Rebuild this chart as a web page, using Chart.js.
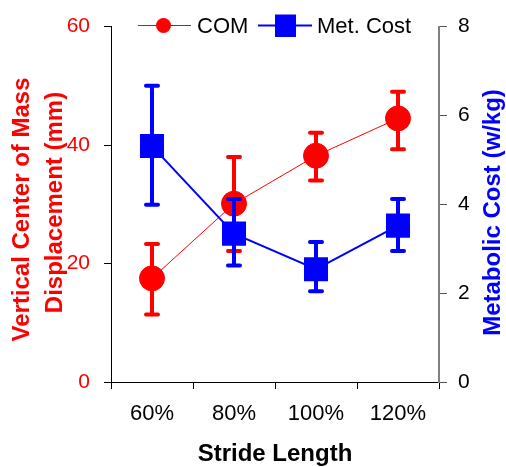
<!DOCTYPE html>
<html>
<head>
<meta charset="utf-8">
<script src="https://cdn.jsdelivr.net/npm/chart.js@4/dist/chart.umd.min.js"></script>
<style>
  html, body { margin: 0; padding: 0; background: #fff; }
  canvas { display: block; }
</style>
</head>
<body>
<canvas id="c" width="506" height="467"></canvas>
<script>
const categories = ['60%', '80%', '100%', '120%'];
const comValues = [17.5, 30.1, 38.2, 44.5];
const comLow = [11.4, 22.1, 34.0, 39.3];
const comHigh = [23.3, 38.0, 42.1, 49.0];
const metValues = [5.31, 3.34, 2.54, 3.52];
const metLow = [3.99, 2.62, 2.04, 2.95];
const metHigh = [6.67, 4.12, 3.15, 4.12];
const seriesNames = ['COM', 'Met. Cost'];
const xTitle = 'Stride Length';
const leftTitle = ['Vertical Center of Mass', 'Displacement (mm)'];
const rightTitle = 'Metabolic Cost (w/kg)';

const FONT = '"Liberation Sans", Arial, sans-serif';
const RED = '#FF0000';
const BLUE = '#0000FF';

const errorBars = {
  id: 'errorBars',
  beforeDatasetDraw(chart, args) {
    const ds = chart.data.datasets[args.index];
    const xs = chart.scales.x;
    const ys = chart.scales[ds.yAxisID];
    const ctx = chart.ctx;
    ctx.save();
    ctx.strokeStyle = ds.borderColor;
    ctx.lineWidth = 4;
    ctx.lineCap = 'round';
    ds.errLow.forEach((lo, i) => {
      const x = xs.getPixelForValue(i);
      const yl = ys.getPixelForValue(lo);
      const yh = ys.getPixelForValue(ds.errHigh[i]);
      ctx.beginPath();
      ctx.moveTo(x, yl); ctx.lineTo(x, yh);
      ctx.moveTo(x - 6, yl); ctx.lineTo(x + 6, yl);
      ctx.moveTo(x - 6, yh); ctx.lineTo(x + 6, yh);
      ctx.stroke();
    });
    ctx.restore();
  }
};

const decorations = {
  id: 'decorations',
  afterDraw(chart) {
    const ctx = chart.ctx;
    const area = chart.chartArea;
    ctx.save();
    // legend
    ctx.strokeStyle = RED; ctx.lineWidth = 1;
    ctx.beginPath(); ctx.moveTo(138, 25.5); ctx.lineTo(191, 25.5); ctx.stroke();
    ctx.fillStyle = RED;
    ctx.beginPath(); ctx.arc(163.5, 25.5, 7.5, 0, Math.PI * 2); ctx.fill();
    ctx.strokeStyle = BLUE; ctx.lineWidth = 2;
    ctx.beginPath(); ctx.moveTo(258, 25.5); ctx.lineTo(312, 25.5); ctx.stroke();
    ctx.fillStyle = BLUE;
    ctx.fillRect(275, 14.5, 21, 22.5);
    ctx.fillStyle = '#000';
    ctx.font = '22px ' + FONT;
    ctx.textBaseline = 'alphabetic';
    ctx.textAlign = 'left';
    ctx.fillText(seriesNames[0], 197, 33);
    ctx.fillText(seriesNames[1], 317, 33);

    // x title
    ctx.font = 'bold 24px ' + FONT;
    ctx.textAlign = 'center';
    ctx.fillText(xTitle, (area.left + area.right) / 2, 461);

    // left title
    ctx.fillStyle = RED;
    ctx.save();
    ctx.translate(29, 209.5);
    ctx.rotate(-Math.PI / 2);
    ctx.fillText(leftTitle[0], 0, 0);
    ctx.restore();
    ctx.save();
    ctx.translate(62, 202.5);
    ctx.rotate(-Math.PI / 2);
    ctx.fillText(leftTitle[1], 0, 0);
    ctx.restore();

    // right title
    ctx.fillStyle = BLUE;
    ctx.save();
    ctx.translate(500, 212.5);
    ctx.rotate(-Math.PI / 2);
    ctx.fillText(rightTitle, 0, 0);
    ctx.restore();
    ctx.restore();
  }
};

new Chart(document.getElementById('c'), {
  type: 'line',
  data: {
    labels: categories,
    datasets: [
      {
        label: seriesNames[0],
        data: comValues,
        errLow: comLow,
        errHigh: comHigh,
        yAxisID: 'y',
        borderColor: RED,
        backgroundColor: RED,
        borderWidth: 1,
        pointStyle: 'circle',
        pointRadius: 12.5,
        pointBorderWidth: 1,
        pointBackgroundColor: RED,
        pointBorderColor: RED,
        order: 2
      },
      {
        label: seriesNames[1],
        data: metValues,
        errLow: metLow,
        errHigh: metHigh,
        yAxisID: 'y1',
        borderColor: BLUE,
        backgroundColor: BLUE,
        borderWidth: 2,
        pointStyle: 'rect',
        pointRadius: 17,
        pointBorderWidth: 0,
        pointBackgroundColor: BLUE,
        pointBorderColor: BLUE,
        order: 1
      }
    ]
  },
  options: {
    responsive: false,
    animation: false,
    layout: { padding: { top: 21, left: 0, right: 0, bottom: 0 } },
    plugins: { legend: { display: false }, tooltip: { enabled: false } },
    scales: {
      x: {
        type: 'category',
        offset: true,
        afterFit(s) { s.height = 85; },
        grid: { offset: true, drawOnChartArea: false, drawTicks: true, tickLength: 7, color: '#000', lineWidth: 1 },
        border: { display: true, color: '#000', width: 1 },
        ticks: { color: '#000', font: { size: 22, family: FONT }, padding: 12, maxRotation: 0, autoSkip: false }
      },
      y: {
        position: 'left',
        min: 0, max: 60,
        afterFit(s) { s.width = 111; },
        grid: { drawOnChartArea: false, drawTicks: true, tickLength: 7, color: '#000' },
        border: { display: true, color: '#000', width: 1 },
        ticks: { stepSize: 20, color: RED, font: { size: 21, family: FONT }, padding: 14 }
      },
      y1: {
        position: 'right',
        min: 0, max: 8,
        afterFit(s) { s.width = 67; },
        grid: { drawOnChartArea: false, drawTicks: true, tickLength: 8, color: '#555' },
        border: { display: true, color: '#808080', width: 2 },
        ticks: { stepSize: 2, color: '#000', font: { size: 21, family: FONT }, padding: 11 }
      }
    }
  },
  plugins: [errorBars, decorations]
});
</script>
</body>
</html>
